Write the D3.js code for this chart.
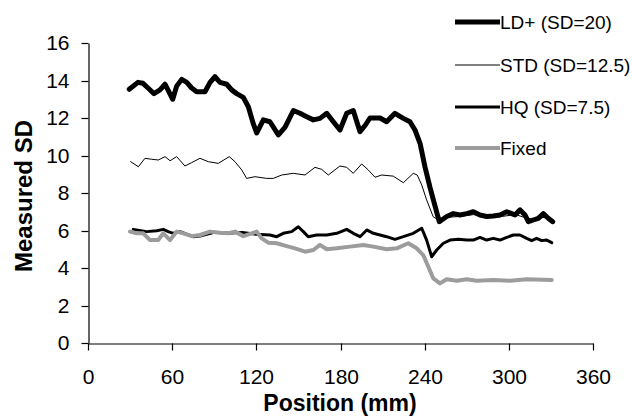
<!DOCTYPE html>
<html>
<head>
<meta charset="utf-8">
<script src="https://cdn.jsdelivr.net/npm/d3@7"></script>
<style>
  html, body { margin: 0; padding: 0; background: #fff; }
  svg { display: block; font-family: "Liberation Sans", Arial, sans-serif; }
</style>
</head>
<body>
<svg id="chart" width="632" height="418"></svg>
<script>
// Measured SD along position, one profile per acquisition mode
const ldPos = [29.4, 35.6, 39.2, 42.8, 47.0, 51.3, 54.9, 57.0, 60.4, 63.2, 66.8, 70.4, 73.9, 77.5, 83.4, 87.0, 90.5, 94.1, 98.9, 102.4, 106.0, 110.7, 114.3, 117.8, 120.3, 125.0, 129.7, 135.7, 140.4, 146.4, 151.1, 155.9, 160.6, 165.4, 170.2, 174.9, 179.6, 184.4, 189.1, 193.9, 197.5, 201.0, 208.2, 212.9, 218.8, 224.8, 229.5, 233.1, 236.7, 240.2, 243.8, 247.4, 250.4, 255.7, 260.4, 265.2, 270.0, 274.7, 279.4, 284.2, 288.9, 293.7, 298.5, 302.0, 304.4, 308.0, 311.5, 313.9, 317.4, 321.0, 324.6, 328.1, 331.3];
const ldVal = [13.53, 13.9, 13.85, 13.6, 13.3, 13.5, 13.8, 13.5, 13.0, 13.7, 14.06, 13.9, 13.6, 13.4, 13.4, 13.9, 14.2, 13.9, 13.8, 13.5, 13.3, 13.1, 12.6, 11.7, 11.2, 11.9, 11.8, 11.1, 11.5, 12.4, 12.25, 12.07, 11.9, 11.98, 12.25, 11.8, 11.36, 12.25, 12.4, 11.27, 11.6, 12.0, 12.0, 11.8, 12.25, 11.98, 11.8, 11.36, 10.65, 9.4, 8.3, 7.3, 6.47, 6.75, 6.9, 6.83, 6.9, 7.0, 6.83, 6.75, 6.77, 6.83, 7.0, 6.9, 6.83, 7.1, 6.83, 6.47, 6.56, 6.65, 6.9, 6.65, 6.47];

const stdPos = [30.4, 35.9, 40.6, 45.4, 50.1, 54.9, 58.5, 63.2, 69.1, 73.9, 79.8, 85.8, 92.9, 100.7, 104.8, 109.6, 113.1, 119.0, 127.4, 132.1, 138.1, 146.4, 154.7, 161.8, 166.6, 171.3, 179.6, 184.4, 189.1, 195.1, 199.8, 204.6, 209.4, 217.6, 224.8, 231.9, 234.7, 237.9, 241.4, 246.1, 249.7, 255.0, 265.0, 275.0, 285.0, 295.0, 305.0, 315.0, 325.0, 331.0];
const stdVal = [9.67, 9.4, 9.85, 9.8, 9.76, 9.94, 9.72, 9.94, 9.44, 9.62, 9.85, 9.67, 9.58, 9.94, 9.67, 9.23, 8.78, 8.87, 8.78, 8.78, 8.96, 9.05, 8.96, 9.37, 9.26, 8.96, 9.44, 9.37, 9.05, 9.55, 9.23, 8.84, 8.96, 8.9, 8.55, 9.05, 8.96, 8.43, 7.63, 6.73, 6.56, 6.7, 6.75, 6.85, 6.7, 6.75, 6.85, 6.6, 6.7, 6.5];

const hqPos = [32.3, 41.8, 49.0, 53.7, 57.2, 60.8, 65.6, 75.1, 79.8, 90.0, 100.0, 110.0, 120.0, 129.7, 134.5, 139.2, 145.2, 149.9, 153.5, 157.0, 163.0, 170.2, 177.3, 184.4, 189.1, 193.9, 198.7, 203.4, 208.2, 212.9, 218.8, 224.8, 231.9, 237.9, 241.4, 245.0, 248.6, 253.3, 258.1, 264.0, 270.0, 274.7, 279.4, 284.2, 288.9, 293.7, 298.5, 303.2, 308.0, 312.7, 316.3, 319.8, 323.4, 327.0, 330.6];
const hqVal = [6.06, 5.94, 5.99, 6.06, 5.94, 5.85, 5.94, 5.67, 5.7, 5.9, 5.85, 5.9, 5.8, 5.76, 5.67, 5.85, 5.94, 6.2, 5.94, 5.67, 5.76, 5.76, 5.85, 6.06, 5.85, 5.67, 6.03, 5.85, 5.76, 5.67, 5.53, 5.67, 5.85, 6.12, 5.49, 4.6, 4.96, 5.32, 5.49, 5.53, 5.49, 5.49, 5.63, 5.49, 5.58, 5.49, 5.63, 5.76, 5.76, 5.58, 5.46, 5.58, 5.46, 5.49, 5.35];

const fixedPos = [29.9, 34.7, 39.4, 44.2, 50.1, 53.7, 58.5, 63.2, 67.9, 73.9, 79.8, 87.0, 94.1, 100.0, 104.8, 110.7, 116.7, 120.3, 123.8, 128.5, 134.5, 141.6, 147.6, 154.7, 160.6, 165.4, 170.2, 177.3, 186.8, 196.3, 203.4, 212.9, 220.1, 228.3, 234.3, 239.0, 242.6, 246.1, 250.9, 255.7, 262.8, 270.0, 277.1, 288.9, 300.8, 312.7, 330.6];
const fixedVal = [5.94, 5.85, 5.85, 5.49, 5.49, 5.85, 5.49, 5.94, 5.85, 5.7, 5.76, 5.94, 5.88, 5.85, 5.94, 5.7, 5.85, 5.94, 5.58, 5.35, 5.32, 5.17, 5.05, 4.87, 4.96, 5.23, 5.0, 5.05, 5.14, 5.23, 5.14, 5.0, 5.05, 5.32, 5.05, 4.69, 4.07, 3.45, 3.18, 3.4, 3.32, 3.4, 3.32, 3.36, 3.32, 3.4, 3.36];

const seriesNames = ["LD+ (SD=20)", "STD (SD=12.5)", "HQ (SD=7.5)", "Fixed"];
const xTicks = [0, 60, 120, 180, 240, 300, 360];
const yTicks = [0, 2, 4, 6, 8, 10, 12, 14, 16];

const series = [
  { name: seriesNames[0], pos: ldPos, val: ldVal, color: "#000", width: 5 },
  { name: seriesNames[1], pos: stdPos, val: stdVal, color: "#000", width: 1 },
  { name: seriesNames[2], pos: hqPos, val: hqVal, color: "#000", width: 3 },
  { name: seriesNames[3], pos: fixedPos, val: fixedVal, color: "#9c9c9c", width: 4 }
];

const svg = d3.select("#chart");
const x = d3.scaleLinear().domain([0, 360]).range([88, 593]);
const y = d3.scaleLinear().domain([0, 16]).range([343, 43]);

// axes
const yAxis = svg.append("g")
  .attr("transform", "translate(88.5,0)")
  .call(d3.axisLeft(y).tickValues(yTicks).tickSize(7).tickPadding(12).tickSizeOuter(0));
const xAxis = svg.append("g")
  .attr("transform", "translate(0,343.5)")
  .call(d3.axisBottom(x).tickValues(xTicks).tickSize(7).tickPadding(19).tickSizeOuter(0));

[yAxis, xAxis].forEach(g => {
  g.select(".domain").attr("stroke", "#000").attr("stroke-width", 1.2);
  g.selectAll(".tick line").attr("stroke", "#000").attr("stroke-width", 1.2);
  g.selectAll(".tick text").attr("fill", "#000").style("font-size", "21px")
    .style("font-family", "'Liberation Sans', Arial, sans-serif");
});
// shift tick lines onto the pixel grid
yAxis.selectAll(".tick").attr("transform", d => `translate(0,${Math.round(y(d)) + 0.5})`);
xAxis.selectAll(".tick").attr("transform", d => `translate(${Math.round(x(d)) + 0.5},0)`);

// axis titles
svg.append("text")
  .attr("transform", "translate(23,196) rotate(-90)")
  .attr("text-anchor", "middle").attr("dy", "0.36em")
  .style("font-size", "24px").style("font-weight", "bold")
  .text("Measured SD");
svg.append("text")
  .attr("x", 340).attr("y", 411)
  .attr("text-anchor", "middle")
  .style("font-size", "23px").style("font-weight", "bold")
  .text("Position (mm)");

// data lines
const line = d3.line()
  .x(d => x(d[0]))
  .y(d => y(d[1]));

svg.append("g").selectAll("path")
  .data(series)
  .join("path")
  .attr("d", s => line(d3.zip(s.pos, s.val)))
  .attr("fill", "none")
  .attr("stroke", s => s.color)
  .attr("stroke-width", s => s.width)
  .attr("stroke-linejoin", "round")
  .attr("stroke-linecap", "round");

// legend
const legendRows = [22, 65, 107, 148];
const legend = svg.append("g").selectAll("g")
  .data(series)
  .join("g")
  .attr("transform", (s, i) => `translate(455,${legendRows[i]})`);
legend.append("line")
  .attr("x1", 0).attr("x2", 45)
  .attr("stroke", s => s.color)
  .attr("stroke-width", s => s.width);
legend.append("text")
  .attr("x", 45).attr("dy", "0.36em")
  .style("font-size", "19px")
  .text(s => s.name);
</script>
</body>
</html>
